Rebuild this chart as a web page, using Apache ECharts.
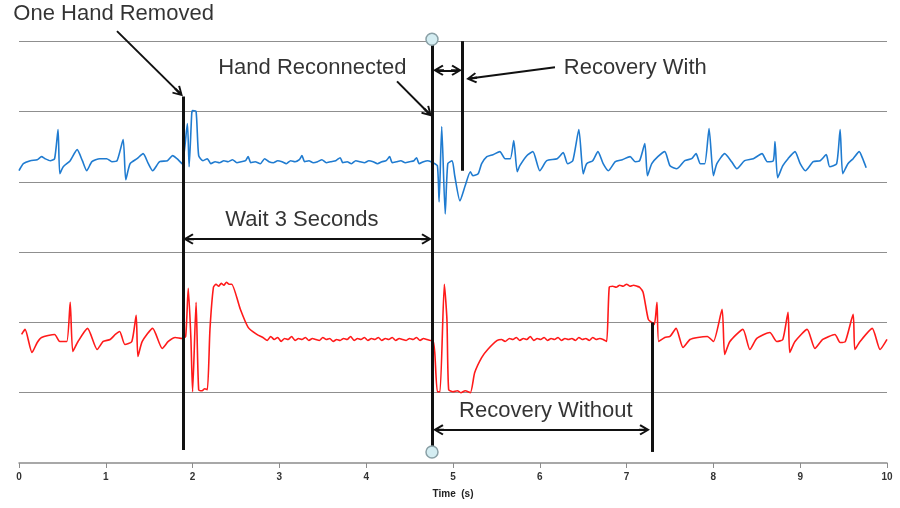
<!DOCTYPE html>
<html>
<head>
    <meta charset="utf-8">
    <title>ECG - hand removed / reconnected</title>
    <script src="https://cdn.jsdelivr.net/npm/echarts@6/dist/echarts.min.js"></script>
    <style>html, body { margin: 0; padding: 0; background: #fff; }</style>
</head>
<body>
    <div id="main" style="width: 900px;height:508px;"></div>
    <script type="text/javascript">
// time (s), amplitude in display units (one grid division = 70)
var blueEcg = [
    [0.00,291],[0.05,298],[0.13,301],[0.21,302],[0.26,305],[0.30,303],[0.36,301],[0.41,303],[0.45,332],[0.47,288],
    [0.51,295],[0.59,301],[0.67,312],[0.73,301],[0.78,291],[0.84,300],[0.93,303],[1.01,303],[1.07,300],[1.13,301],
    [1.20,322],[1.23,282],[1.28,298],[1.36,303],[1.43,308],[1.49,298],[1.54,291],[1.62,300],[1.71,301],[1.77,306],
    [1.82,303],[1.88,298],[1.94,338],[1.96,295],[1.99,348],[2.00,351],[2.04,350],[2.07,306],[2.12,301],
    [2.17,303],[2.21,298],[2.26,300],[2.31,299],[2.36,301],[2.41,300],[2.46,302],[2.51,299],[2.56,300],[2.61,301],
    [2.64,305],[2.67,299],[2.72,300],[2.78,298],[2.83,303],[2.88,300],[2.93,299],[2.98,301],[3.03,300],[3.08,298],
    [3.13,301],[3.18,300],[3.23,302],[3.26,306],[3.29,300],[3.34,301],[3.39,299],[3.44,300],[3.49,302],[3.54,299],
    [3.59,300],[3.65,301],[3.70,304],[3.73,299],[3.78,300],[3.83,298],[3.88,301],[3.93,300],[3.98,299],[4.03,301],
    [4.08,300],[4.13,298],[4.18,300],[4.23,301],[4.27,305],[4.30,299],[4.35,300],[4.40,301],[4.45,299],[4.50,300],
    [4.55,301],[4.58,304],[4.61,298],[4.66,300],[4.71,301],[4.77,299],
    [4.82,296],[4.84,260],[4.87,335],[4.91,248],[4.94,298],[4.99,301],[5.02,286],[5.08,261],[5.14,276],[5.20,290],
    [5.23,286],[5.29,288],[5.33,298],[5.39,305],[5.46,307],[5.54,310],[5.60,303],[5.66,303],[5.70,321],[5.74,290],
    [5.77,296],[5.85,306],[5.92,310],[6.00,291],[6.08,301],[6.20,303],[6.27,309],[6.32,298],[6.38,301],[6.45,332],
    [6.50,288],[6.54,298],[6.61,301],[6.67,310],[6.73,298],[6.79,291],[6.87,300],[6.95,302],[7.04,305],[7.10,300],
    [7.15,301],[7.21,318],[7.24,286],[7.29,298],[7.36,305],[7.44,310],[7.50,296],[7.58,293],[7.67,301],[7.75,303],
    [7.80,308],[7.85,298],[7.90,298],[7.95,333],[8.00,286],[8.04,298],[8.13,308],[8.21,300],[8.27,293],[8.36,301],
    [8.46,303],[8.56,308],[8.62,300],[8.69,301],[8.71,320],[8.74,284],[8.80,296],[8.86,303],[8.94,310],[9.00,298],
    [9.06,291],[9.15,300],[9.23,301],[9.30,307],[9.34,295],[9.42,298],[9.46,332],[9.49,288],[9.55,298],[9.61,303],
    [9.68,310],[9.72,303],[9.76,294]
];

var redEcg = [
    [0.03,128],[0.07,133],[0.15,110],[0.21,120],[0.26,125],[0.41,128],[0.47,121],[0.55,121],[0.59,160],[0.62,111],
    [0.68,121],[0.79,134],[0.90,113],[0.97,121],[1.05,123],[1.11,128],[1.16,131],[1.22,118],[1.30,121],[1.35,147],
    [1.37,106],[1.42,121],[1.54,134],[1.65,114],[1.72,121],[1.80,125],[1.88,124],[1.92,126],[1.95,174],[1.98,125],
    [2.00,71],[2.04,160],[2.07,73],[2.11,72],[2.14,74],[2.17,73],[2.20,133],[2.24,175],[2.27,178],[2.30,176],
    [2.33,179],[2.36,177],[2.39,180],[2.42,178],[2.45,178],[2.55,153],[2.64,135],[2.74,128],[2.81,125],
    [2.86,122],[2.90,126],[2.94,123],[2.98,125],[3.02,121],[3.06,124],[3.10,123],[3.14,126],[3.18,122],[3.22,124],
    [3.26,123],[3.30,125],[3.34,122],[3.38,124],[3.42,123],[3.46,122],[3.50,125],[3.54,123],[3.58,124],[3.62,121],
    [3.66,123],[3.70,122],[3.74,124],[3.78,123],[3.82,126],[3.86,122],[3.90,124],[3.94,123],[3.98,125],[4.02,122],
    [4.06,124],[4.10,123],[4.14,125],[4.18,122],[4.22,124],[4.26,123],[4.30,125],[4.34,122],[4.38,124],[4.42,123],
    [4.46,122],[4.50,124],[4.54,123],[4.58,125],[4.62,122],[4.66,124],[4.70,123],[4.74,122],[4.77,122],
    [4.79,110],[4.82,71],[4.85,71],[4.90,178],[4.93,143],[4.95,73],[5.00,71],[5.05,72],[5.09,70],[5.14,72],
    [5.20,70],[5.25,90],[5.33,105],[5.40,113],[5.51,122],
    [5.56,123],[5.60,121],[5.65,124],[5.69,123],[5.73,125],[5.77,122],[5.81,124],[5.85,123],[5.89,126],[5.93,122],
    [5.97,124],[6.01,123],[6.05,125],[6.09,122],[6.13,124],[6.17,123],[6.21,125],[6.25,122],[6.29,124],[6.33,123],
    [6.37,124],[6.41,122],[6.45,125],[6.49,123],[6.53,124],[6.57,122],[6.61,125],[6.65,123],[6.69,124],[6.73,123],
    [6.77,121],[6.80,175],[6.84,176],[6.88,175],[6.92,177],[6.96,176],[7.00,178],[7.04,176],[7.08,177],[7.12,176],
    [7.15,175],[7.19,170],[7.25,143],[7.29,140],[7.32,138],[7.35,160],[7.37,121],[7.44,125],[7.50,126],[7.57,134],
    [7.65,115],[7.73,123],[7.82,125],[7.93,126],[8.00,121],[8.10,153],[8.13,108],[8.19,121],[8.34,133],[8.42,113],
    [8.50,124],[8.65,130],[8.73,121],[8.80,123],[8.86,150],[8.88,110],[8.94,121],[9.08,133],[9.17,114],[9.26,123],
    [9.40,128],[9.46,120],[9.52,121],[9.61,148],[9.63,113],[9.69,121],[9.83,134],[9.92,113],[10.0,123]
];

var gridLevels = [70, 140, 210, 280, 350, 420];

// x, top, bottom
var eventLines = [[1.889, 365, 13], [4.758, 422, 11], [5.104, 420, 291], [7.293, 140, 11]];
// double headed spans: x1, x2, y
var spanArrows = [[1.953, 4.694, 223], [4.833, 5.040, 391], [4.833, 7.206, 33]];
// pointers: from x, y -> to x, y
var pointerArrows = [[1.129, 430, 1.843, 369], [4.355, 380, 4.712, 349], [6.175, 394, 5.214, 383]];
var knobs = [[4.758, 422], [4.758, 11]];
var notes = [
    ['One Hand Removed', 1.09, 447],
    ['Hand Reconnected', 3.38, 393],
    ['Recovery With', 7.10, 393],
    ['Wait 3 Seconds', 3.26, 242],
    ['Recovery Without', 6.07, 52]
];

var chevron = 'path://M5,0 L10,8.5 L8.6,9.6 L6,5.05 L6,10 L4,10 L4,5.05 L1.4,9.6 L0,8.5 Z';
var textFont = '"Liberation Sans", Arial, sans-serif';

var myChart = echarts.init(document.getElementById('main'));

option = {
    animation: false,
    grid: {left: 19, right: 13, top: 1, bottom: 45},
    xAxis: {
        type: 'value', min: 0, max: 10, interval: 1,
        name: 'Time  (s)', nameLocation: 'middle', nameGap: 26,
        nameTextStyle: {fontSize: 10, fontWeight: 'bold', color: '#222', fontFamily: textFont},
        axisLine: {lineStyle: {color: '#8c8c8c', width: 1.5}},
        axisTick: {length: 5, lineStyle: {color: '#8c8c8c'}},
        axisLabel: {margin: 9, fontSize: 10, fontWeight: 'bold', color: '#333', fontFamily: textFont},
        splitLine: {show: false}
    },
    yAxis: {type: 'value', min: 0, max: 460, show: false},
    series: [
        {
            // horizontal guide lines
            type: 'line', data: [], silent: true,
            markLine: {
                silent: true, symbol: 'none', z: 1,
                label: {show: false},
                lineStyle: {color: '#8f8f8f', width: 1.2, type: 'solid'},
                data: gridLevels.map(function (v) { return {yAxis: v}; })
            }
        },
        {
            type: 'line', name: 'blue', data: blueEcg, showSymbol: false, z: 2, smooth: 0.2,
            lineStyle: {color: '#1f7bd0', width: 1.6}
        },
        {
            type: 'line', name: 'red', data: redEcg, showSymbol: false, z: 2, smooth: 0.2,
            lineStyle: {color: '#ff1a1a', width: 1.6}
        },
        {
            type: 'line', data: [], silent: true,
            markLine: {
                silent: true, symbol: 'none',
                label: {show: false},
                lineStyle: {color: '#111', width: 3, type: 'solid'},
                data: eventLines.map(function (e) {
                    return [{coord: [e[0], e[1]]}, {coord: [e[0], e[2]]}];
                })
            }
        },
        {
            type: 'line', data: [], silent: true,
            markLine: {
                silent: true, symbol: [chevron, chevron], symbolSize: 11,
                label: {show: false},
                lineStyle: {color: '#111', width: 2, type: 'solid'},
                data: spanArrows.map(function (a) {
                    return [{coord: [a[0], a[2]]}, {coord: [a[1], a[2]]}];
                })
            }
        },
        {
            type: 'line', data: [], silent: true,
            markLine: {
                silent: true, symbol: ['none', chevron], symbolSize: 11,
                label: {show: false},
                lineStyle: {color: '#111', width: 2, type: 'solid'},
                data: pointerArrows.map(function (a) {
                    return [{coord: [a[0], a[1]]}, {coord: [a[2], a[3]]}];
                })
            }
        },
        {
            type: 'scatter', data: knobs, symbolSize: 12, z: 12, silent: true,
            itemStyle: {color: '#d4edf2', borderColor: '#8aa0a6', borderWidth: 1.5, opacity: 1}
        },
        {
            type: 'scatter', symbolSize: 0, z: 12, silent: true,
            data: notes.map(function (n) { return {name: n[0], value: [n[1], n[2]]}; }),
            label: {
                show: true, position: 'inside', formatter: '{b}',
                fontSize: 22, color: '#000', fontFamily: textFont
            }
        }
    ]
};

myChart.setOption(option);
    </script>
</body>
</html>
